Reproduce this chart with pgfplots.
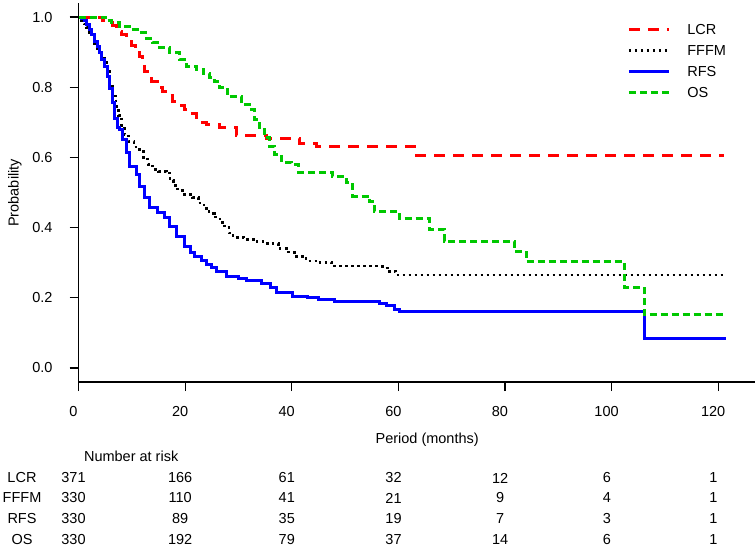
\documentclass[border=0pt]{standalone}
\usepackage{fontspec}
\setmainfont{Liberation Sans}
\usepackage{pgfplots}
\pgfplotsset{compat=1.18}
\definecolor{kmred}{RGB}{255,0,0}
\definecolor{kmblue}{RGB}{0,0,255}
\definecolor{kmgreen}{RGB}{0,200,0}
\begin{document}
\fontsize{14.5}{17}\selectfont
\begin{tikzpicture}
\begin{axis}[
    at={(78.5pt,-382pt)}, anchor=south west,
    scale only axis, width=677pt, height=379pt,
    xmin=0, xmax=127, ymin=-0.04, ymax=1.04,
    axis lines=left,
    axis line style={-, line width=1.2pt},
    tick align=outside,
    major tick length=9pt,
    tick style={line width=1.2pt, black},
    xtick={0,20,40,60,80,100,120},
    ytick={0,0.2,0.4,0.6,0.8,1.0},
    minor tick num=0,
    tick label style={font=\fontsize{14.5}{17}\selectfont, /pgf/number format/assume math mode=true},
    xticklabel style={xshift=-5pt, yshift=-10pt},
    yticklabel style={xshift=-12pt, /pgf/number format/.cd, fixed, fixed zerofill, precision=1},
    xlabel={Period (months)},
    xlabel style={at={(axis description cs:0.515,-0.153)}, anchor=center, font=\fontsize{14.5}{17}\selectfont},
    ylabel={Probability},
    ylabel style={at={(axis description cs:-0.094,0.499)}, anchor=center, rotate=0, font=\fontsize{14.5}{17}\selectfont},
    clip=false,
    legend image code/.code={\draw[#1] (0pt,0pt) -- (40pt,0pt);},
    legend style={at={(axis description cs:0.806,0.95)}, anchor=north west,
        draw=none, fill=none, font=\fontsize{14.5}{17}\selectfont,
        nodes={inner sep=0pt, text height=10.5pt, text depth=0pt},
        row sep=10.5pt,
        /tikz/every odd column/.append style={column sep=17pt}},
    legend cell align=left,
]
% LCR
\addplot[const plot, color=kmred, line width=3pt, dash pattern=on 11pt off 8pt] coordinates {
(0,1) (4.5,0.99) (5.5,0.985) (6.4,0.975) (7.2,0.96) (8.1,0.95) (9,0.935) (9.9,0.92)
(10.6,0.905) (11.4,0.888) (12,0.865) (12.4,0.845) (13.0,0.83) (13.7,0.816) (14.8,0.80)
(15.8,0.788) (16.7,0.775) (17.6,0.76) (18.8,0.748) (19.9,0.737) (21,0.725) (22.1,0.714)
(23,0.70) (24,0.694) (26.4,0.686) (29.6,0.663) (35.3,0.654) (41.4,0.64) (44.6,0.632)
(63,0.606) (121,0.606)
};
\addlegendentry{LCR}
% FFFM
\addplot[const plot, color=black, line width=2.5pt, dash pattern=on 2.5pt off 3.5pt] coordinates {
(0,1) (0.5,0.99) (1,0.98) (1.5,0.97) (2,0.955) (2.5,0.94) (3,0.925) (3.5,0.91) (4,0.89)
(4.9,0.87) (5.3,0.85) (5.8,0.81) (6.4,0.775) (7,0.745) (7.5,0.72) (8.1,0.69) (8.6,0.665)
(9.4,0.645) (10.4,0.63) (11.4,0.617) (12.2,0.595) (13,0.58) (13.9,0.566) (15,0.56)
(16.5,0.555) (17.2,0.535) (17.8,0.52) (18.6,0.505) (19.5,0.495) (21.4,0.486) (22.5,0.47)
(23.5,0.455) (24.5,0.44) (25.5,0.43) (26.5,0.415) (27.4,0.4) (28.2,0.385) (29,0.372)
(31,0.366) (33.5,0.36) (35.5,0.354) (37.5,0.34) (39,0.33) (40.5,0.318) (42.7,0.305)
(45,0.30) (47.5,0.29) (57,0.285) (58,0.275) (59.5,0.265) (121,0.265)
};
\addlegendentry{FFFM}
% RFS
\addplot[const plot, color=kmblue, line width=3pt] coordinates {
(0,1) (0.5,0.995) (1.1,0.99) (1.5,0.98) (2,0.965) (2.4,0.95) (3,0.93) (3.5,0.915)
(3.9,0.90) (4.3,0.88) (4.9,0.86) (5.4,0.83) (5.8,0.795) (6.4,0.757) (6.8,0.71) (7.3,0.686)
(7.7,0.68) (8.3,0.65) (9,0.614) (9.6,0.575) (10.9,0.552) (11.4,0.518) (12.4,0.486)
(13.3,0.458) (14.8,0.444) (16.1,0.43) (17.1,0.404) (18.4,0.376) (19.9,0.347) (21,0.33)
(21.8,0.319) (23,0.305) (24,0.296) (25,0.285) (25.9,0.276) (27.8,0.262) (30,0.256)
(31.5,0.25) (34.3,0.24) (36,0.228) (37.1,0.216) (40.1,0.205) (43,0.2) (45,0.195)
(48,0.188) (56.4,0.185) (57.7,0.178) (59.3,0.168) (60.2,0.162) (106.1,0.085) (121.5,0.085)
};
\addlegendentry{RFS}
% OS
\addplot[const plot, color=kmgreen, line width=3pt, dash pattern=on 7pt off 4pt] coordinates {
(0,1) (5,0.99) (6.2,0.984) (7.7,0.973) (9.6,0.964) (11.4,0.956) (12.5,0.94) (13.9,0.927)
(15.2,0.913) (17.1,0.899) (18.9,0.879) (20.3,0.859) (22.1,0.85) (23.5,0.84) (24.6,0.828)
(25.5,0.815) (26.4,0.80) (27.9,0.774) (30.6,0.751) (32.4,0.737) (33,0.708) (33.9,0.68)
(34.9,0.657) (35.8,0.632) (36.8,0.609) (38.1,0.586) (40,0.58) (41.2,0.558) (47.6,0.546)
(50.2,0.529) (51.4,0.49) (54.6,0.475) (55.5,0.447) (60.2,0.425) (65.8,0.395) (68.6,0.361)
(81.8,0.333) (84,0.302) (102.4,0.23) (106.1,0.151) (121.5,0.151)
};
\addlegendentry{OS}
\end{axis}
% number at risk table
\node[anchor=west] at (79pt,-456pt) {Number at risk};
\foreach \lab/\yy/\a/\b/\c/\d/\e/\f/\g in {
  LCR/478/371/166/61/32/12/6/1,
  FFFM/498/330/110/41/21/9/4/1,
  RFS/519/330/89/35/19/7/3/1,
  OS/540/330/192/79/37/14/6/1}{
  \node at (22pt,-\yy pt) {\lab};
  \node at (73.5pt,-\yy pt) {\a};
  \node at (180.2pt,-\yy pt) {\b};
  \node at (286.8pt,-\yy pt) {\c};
  \node at (393.5pt,-\yy pt) {\d};
  \node at (500.1pt,-\yy pt) {\e};
  \node at (606.8pt,-\yy pt) {\f};
  \node at (713.5pt,-\yy pt) {\g};
}
\pgfresetboundingbox
\path[use as bounding box] (0pt,0pt) rectangle (755pt,-548pt);
\end{tikzpicture}
\end{document}
